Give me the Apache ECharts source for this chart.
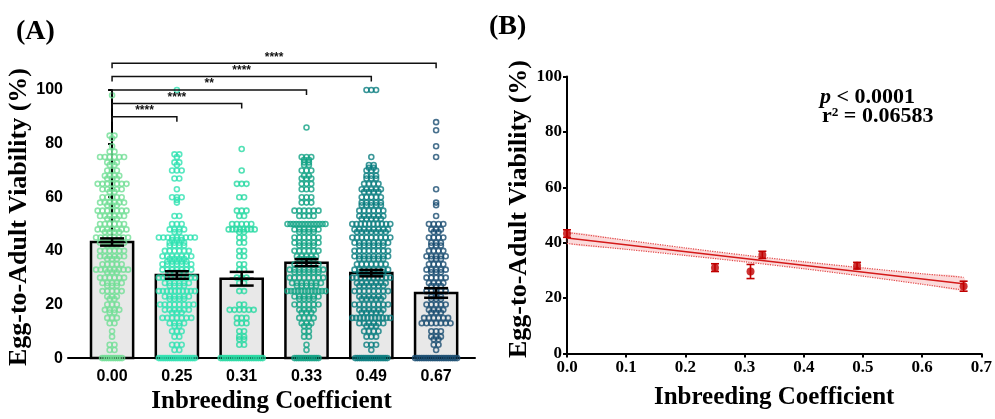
<!DOCTYPE html>
<html><head><meta charset="utf-8">
<script src="https://cdn.jsdelivr.net/npm/echarts@6/dist/echarts.min.js"></script>
<style>html,body{margin:0;padding:0;background:#fff}#c{width:995px;height:419px}</style>
</head><body><div id="c"></div>
<script>
// ---------- data ----------
const categories = ['0.00', '0.25', '0.31', '0.33', '0.49', '0.67'];
const inbreeding = [0, 0.25, 0.31, 0.33, 0.49, 0.67];
const meanViability = [43.3, 31.0, 29.6, 35.6, 31.7, 24.3];
const semViability = [1.35, 1.4, 2.55, 1.3, 1.2, 1.8];

// individual replicate viabilities, as [value (%), number of points]
const viab000 = [[98,1],[83,2],[82,1],[79,1],[77,2],[75,6],[73,3],[72,2],[70,3],[68,4],[67,3],[65,7],[63,5],[62,2],[60,5],[58,6],[57,3],[55,7],[53,6],[52,3],[50,6],[48,7],[47,4],[45,8],[43,6],[42,3],[40,6],[38,6],[37,3],[35,5],[33,8],[32,3],[30,6],[28,5],[27,3],[25,5],[23,3],[22,2],[20,3],[18,4],[17,2],[15,3],[13,2],[10,1],[8,1],[5,2],[3,2],[0,10]];
const viab025 = [[100,1],[76,2],[75,1],[73,2],[72,1],[70,3],[67,2],[63,1],[60,3],[59,1],[58,1],[53,2],[50,3],[48,4],[47,2],[45,9],[44,3],[43,4],[42,4],[40,6],[38,7],[37,4],[36,5],[35,7],[33,7],[32,4],[30,10],[28,6],[27,4],[25,10],[23,6],[22,4],[20,8],[18,6],[17,3],[15,7],[13,4],[12,2],[10,3],[8,2],[5,3],[3,2],[0,18]];
const viab031 = [[78,1],[70,1],[65,3],[60,2],[55,3],[53,2],[50,5],[48,8],[47,2],[45,2],[43,2],[40,2],[38,2],[35,2],[33,2],[30,3],[28,2],[25,2],[20,2],[18,6],[15,3],[13,3],[10,2],[8,2],[7,2],[5,2],[0,20]];
const viab033 = [[86,1],[75,3],[74,2],[73,2],[72,2],[70,3],[68,2],[67,3],[65,3],[63,3],[60,3],[58,3],[55,6],[53,4],[50,14],[48,6],[47,4],[45,6],[43,6],[42,4],[40,6],[38,5],[37,4],[35,6],[33,8],[32,6],[30,8],[28,7],[27,5],[25,12],[23,6],[22,4],[20,6],[18,4],[17,3],[15,4],[13,3],[12,2],[10,2],[8,2],[5,1],[3,1],[0,12]];
const viab049 = [[100,3],[75,1],[72,2],[71,2],[70,3],[68,3],[67,3],[65,4],[63,5],[62,4],[60,5],[58,5],[57,5],[55,6],[53,6],[52,5],[50,10],[48,8],[47,7],[45,9],[43,8],[42,6],[40,8],[38,8],[37,6],[35,7],[33,8],[32,6],[30,10],[28,7],[27,6],[25,8],[23,6],[22,5],[20,8],[18,6],[17,5],[15,11],[13,6],[12,3],[10,4],[8,3],[5,3],[3,1],[0,16]];
const viab067 = [[88,1],[85,1],[79,1],[75,1],[63,1],[58,1],[57,1],[53,1],[50,4],[48,3],[47,2],[45,4],[43,3],[42,3],[40,4],[38,5],[37,3],[35,4],[33,5],[32,3],[30,5],[28,4],[27,3],[25,5],[23,3],[22,3],[20,5],[18,4],[17,3],[15,6],[13,7],[10,3],[8,3],[7,2],[5,2],[3,1],[0,20]];
const groups = [viab000, viab025, viab031, viab033, viab049, viab067];

// significance brackets (from group, to group, height in %, label)
const bracketFrom = [0, 0, 0, 0, 0];
const bracketTo = [1, 2, 3, 4, 5];
const bracketY = [90, 95, 100, 105, 110];
const bracketLabel = ['****', '****', '**', '****', '****'];

// linear regression and 95% confidence band (panel B)
const fitX = [0, 0.67];
const fitY = [41.7, 25.2];
const bandX = [0, 0.1, 0.2, 0.3, 0.4, 0.5, 0.6, 0.67];
const bandUpper = [43.7, 40.9, 38.1, 35.5, 33.1, 30.9, 28.8, 27.5];
const bandLower = [39.7, 37.6, 35.4, 33.1, 30.6, 27.9, 25.0, 22.9];

// ---------- styles / layout ----------
const groupColors = ['#72de96', '#30e2b2', '#27d9a2', '#12a384', '#0a7d7f', '#1a4d72'];
const swarmHalfWidth = [16, 18, 13, 19, 19, 16];
const zeroHalfWidth = [10, 18, 21, 12, 16, 21];
const PX_PER_CAT = 64.8, DOT_STEP = 4.8, ROW_BIN = 1;

// row-based dot-plot layout: each value gets a centred row
function rowLayout(counts, gi) {
  const vals = [];
  counts.forEach(([v, n]) => { for (let k = 0; k < n; k++) vals.push(v); });
  vals.sort((a, b) => b - a);
  const rows = [];
  vals.forEach(v => {
    const r = rows[rows.length - 1];
    if (r && r.start - v < ROW_BIN && (v !== 0) === (r.start !== 0)) r.items.push(v);
    else rows.push({ start: v, items: [v] });
  });
  const out = [];
  rows.forEach(r => {
    const n = r.items.length;
    const w = r.start === 0 ? zeroHalfWidth[gi] : swarmHalfWidth[gi];
    const sp = n > 1 ? Math.min(DOT_STEP, (2 * w) / (n - 1)) : 0;
    r.items.forEach((v, j) => {
      const x = (j - (n - 1) / 2) * sp;
      out.push([gi + x / PX_PER_CAT, v]);
    });
  });
  return out;
}

const serifBold = { fontFamily: 'Liberation Serif', fontWeight: 'bold', color: '#000' };
const sansBold = { fontFamily: 'Liberation Sans', fontWeight: 'bold', color: '#000' };

const chart = echarts.init(document.getElementById('c'), null, { renderer: 'canvas' });

const series = [];
// bars
series.push({
  type: 'custom', xAxisIndex: 0, yAxisIndex: 0, z: 1, clip: false,
  data: meanViability.map((m, i) => [i, m]),
  renderItem: (params, api) => {
    const i = api.value(0), m = api.value(1);
    const p1 = api.coord([i - 0.325, m]), p2 = api.coord([i + 0.325, 0]);
    return { type: 'rect', shape: { x: p1[0], y: p1[1], width: p2[0] - p1[0], height: p2[1] - p1[1] },
      style: { fill: '#e8e8e8', stroke: '#000', lineWidth: 2.5 } };
  }
});
// dots
groups.forEach((g, gi) => {
  series.push({
    type: 'scatter', xAxisIndex: 0, yAxisIndex: 0, z: 2, clip: false,
    symbol: 'circle', symbolSize: 5, silent: true,
    itemStyle: { color: 'rgba(255,255,255,0)', borderColor: groupColors[gi], borderWidth: 1.6 },
    data: rowLayout(g, gi)
  });
});
// error bars A
series.push({
  type: 'custom', xAxisIndex: 0, yAxisIndex: 0, z: 3, clip: false,
  data: meanViability.map((m, i) => [i, m, semViability[i]]),
  renderItem: (params, api) => {
    const i = api.value(0), m = api.value(1), s = api.value(2);
    const top = api.coord([i, m + s]), bot = api.coord([i, m - s]), mid = api.coord([i, m]);
    const st = { stroke: '#000', lineWidth: 2.5 };
    return { type: 'group', children: [
      { type: 'line', shape: { x1: top[0], y1: top[1], x2: bot[0], y2: bot[1] }, style: st },
      { type: 'line', shape: { x1: top[0] - 12, y1: top[1], x2: top[0] + 12, y2: top[1] }, style: st },
      { type: 'line', shape: { x1: bot[0] - 12, y1: bot[1], x2: bot[0] + 12, y2: bot[1] }, style: st },
      { type: 'line', shape: { x1: mid[0] - 12, y1: mid[1], x2: mid[0] + 12, y2: mid[1] }, style: st }
    ] };
  }
});
// brackets
series.push({
  type: 'custom', xAxisIndex: 0, yAxisIndex: 0, z: 3, clip: false,
  data: bracketY.map((y, k) => [bracketFrom[k], bracketTo[k], y]),
  renderItem: (params, api) => {
    const a = api.coord([api.value(0), api.value(2)]), b = api.coord([api.value(1), api.value(2)]);
    const st = { stroke: '#111', lineWidth: 1.5 };
    return { type: 'group', children: [
      { type: 'polyline', shape: { points: [[a[0], a[1] + 5], [a[0], a[1]], [b[0], b[1]], [b[0], b[1] + 5]] }, style: { ...st, fill: null } },
      { type: 'text', x: (a[0] + b[0]) / 2, y: a[1] - 6,
        style: { text: bracketLabel[params.dataIndex], fill: '#111', font: 'bold 12px "Liberation Sans"', align: 'center', verticalAlign: 'middle' } }
    ] };
  }
});
// panel B band fill
series.push({
  type: 'custom', xAxisIndex: 1, yAxisIndex: 1, z: 1,
  data: [[0]],
  renderItem: (params, api) => {
    const pts = bandX.map((x, k) => api.coord([x, bandUpper[k]]))
      .concat(bandX.slice().reverse().map((x, k) => api.coord([x, bandLower[bandX.length - 1 - k]])));
    return { type: 'polygon', shape: { points: pts, smooth: 0.3 }, style: { fill: 'rgba(235,90,90,0.22)' } };
  }
});
series.push({ type: 'line', xAxisIndex: 1, yAxisIndex: 1, z: 2, symbol: 'none', smooth: 0.3, silent: true,
  lineStyle: { color: '#e24848', width: 1.2, type: 'dotted' }, data: bandX.map((x, k) => [x, bandUpper[k]]) });
series.push({ type: 'line', xAxisIndex: 1, yAxisIndex: 1, z: 2, symbol: 'none', smooth: 0.3, silent: true,
  lineStyle: { color: '#e24848', width: 1.2, type: 'dotted' }, data: bandX.map((x, k) => [x, bandLower[k]]) });
series.push({ type: 'line', xAxisIndex: 1, yAxisIndex: 1, z: 3, symbol: 'none', silent: true,
  lineStyle: { color: '#d41a1a', width: 1.6 }, data: fitX.map((x, k) => [x, fitY[k]]) });
// panel B error bars
series.push({
  type: 'custom', xAxisIndex: 1, yAxisIndex: 1, z: 4, clip: false,
  data: meanViability.map((m, i) => [inbreeding[i], m, semViability[i]]),
  renderItem: (params, api) => {
    const x = api.value(0), m = api.value(1), s = api.value(2);
    const top = api.coord([x, m + s]), bot = api.coord([x, m - s]);
    const st = { stroke: '#c00000', lineWidth: 1.6 };
    return { type: 'group', children: [
      { type: 'line', shape: { x1: top[0], y1: top[1], x2: bot[0], y2: bot[1] }, style: st },
      { type: 'line', shape: { x1: top[0] - 4, y1: top[1], x2: top[0] + 4, y2: top[1] }, style: st },
      { type: 'line', shape: { x1: bot[0] - 4, y1: bot[1], x2: bot[0] + 4, y2: bot[1] }, style: st }
    ] };
  }
});
series.push({ type: 'scatter', xAxisIndex: 1, yAxisIndex: 1, z: 5, clip: false, symbolSize: 8,
  itemStyle: { color: '#c00000' }, data: meanViability.map((m, i) => [inbreeding[i], m]) });

const option = {
  animation: false,
  grid: [
    { left: 68, top: 90, width: 407, height: 273 },
    { left: 567, top: 76.5, width: 415, height: 277 }
  ],
  xAxis: [
    { type: 'value', gridIndex: 0, min: -0.68, max: 5.6,
      axisLine: { show: true, lineStyle: { color: '#000', width: 2 } },
      axisTick: { show: false }, splitLine: { show: false },
      axisLabel: { customValues: [0, 1, 2, 3, 4, 5], formatter: v => categories[Math.round(v)], ...sansBold, fontSize: 16, margin: 10 },
      name: 'Inbreeding Coefficient', nameLocation: 'middle', nameGap: 30,
      nameTextStyle: { ...serifBold, fontSize: 25 } },
    { type: 'value', gridIndex: 1, min: 0, max: 0.7, interval: 0.1,
      axisLine: { show: true, lineStyle: { color: '#000', width: 2 } },
      axisTick: { show: true, length: 4, lineStyle: { color: '#000', width: 2 } },
      splitLine: { show: false },
      axisLabel: { formatter: v => v.toFixed(1), ...serifBold, fontSize: 17, margin: 6 },
      name: 'Inbreeding Coefficient', nameLocation: 'middle', nameGap: 32,
      nameTextStyle: { ...serifBold, fontSize: 25 } }
  ],
  yAxis: [
    { type: 'value', gridIndex: 0, min: 0, max: 100, interval: 20,
      axisLine: { show: true, lineStyle: { color: '#000', width: 2 } },
      axisTick: { show: true, length: 4, lineStyle: { color: '#000', width: 2 } },
      splitLine: { show: false },
      axisLabel: { ...sansBold, fontSize: 16, margin: 5 },
      name: 'Egg-to-Adult Viability (%)', nameLocation: 'middle', nameGap: 24, nameRotate: 90,
      nameTextStyle: { ...serifBold, fontSize: 26, padding: [0, 0, 0, 14] } },
    { type: 'value', gridIndex: 1, min: 0, max: 100, interval: 20,
      axisLine: { show: true, lineStyle: { color: '#000', width: 2 } },
      axisTick: { show: true, length: 4, lineStyle: { color: '#000', width: 2 } },
      splitLine: { show: false },
      axisLabel: { ...serifBold, fontSize: 17, margin: 5 },
      name: 'Egg-to-Adult Viability (%)', nameLocation: 'middle', nameGap: 26, nameRotate: 90,
      nameTextStyle: { ...serifBold, fontSize: 26, padding: [0, 0, 0, 12] } }
  ],
  graphic: [
    { type: 'text', x: 16, y: 32, style: { text: '(A)', font: 'bold 28px "Liberation Serif"', fill: '#000', verticalAlign: 'middle' } },
    { type: 'text', x: 489, y: 27, style: { text: '(B)', font: 'bold 28px "Liberation Serif"', fill: '#000', verticalAlign: 'middle' } },
    { type: 'text', x: 820, y: 97, style: { text: '{i|p} < 0.0001', font: 'bold 22px "Liberation Serif"', fill: '#000', verticalAlign: 'middle',
        rich: { i: { fontStyle: 'italic', fontWeight: 'bold', fontFamily: 'Liberation Serif', fontSize: 22 } } } },
    { type: 'text', x: 822, y: 116, style: { text: 'r² = 0.06583', font: 'bold 22px "Liberation Serif"', fill: '#000', verticalAlign: 'middle' } }
  ],
  series
};
chart.setOption(option);
</script></body></html>
